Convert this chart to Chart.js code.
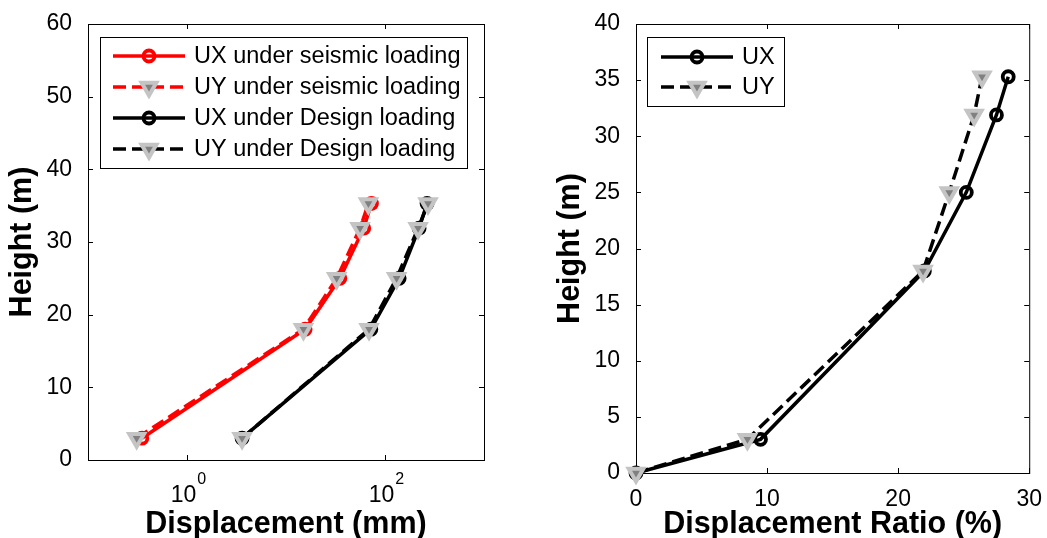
<!DOCTYPE html>
<html>
<head>
<meta charset="utf-8">
<script src="https://cdn.jsdelivr.net/npm/chart.js@4.4.1/dist/chart.umd.min.js"></script>
<style>
  html, body { margin: 0; padding: 0; background: #fff; }
  #wrap { position: relative; width: 1047px; height: 538px; overflow: hidden; }
  .box { position: absolute; top: 0; height: 538px; }
  #leftBox { left: 0; width: 520px; }
  #rightBox { left: 540px; width: 507px; }
</style>
</head>
<body>
<div id="wrap">
  <div class="box" id="leftBox"><canvas id="dispChart"></canvas></div>
  <div class="box" id="rightBox"><canvas id="ratioChart"></canvas></div>
</div>
<script>
// left plot: storey displacement (mm, log scale) vs height
const heights = [3, 18, 25, 31.9, 35.3];
const seismicUX = [0.35, 15.6, 35, 61, 73];
const seismicUY = [0.31, 15, 32.5, 56, 68];
const designUX = [3.6, 72, 139, 221, 266];
const designUY = [3.6, 69, 131, 216, 272];
const logTicks = [1, 100];

// right plot: displacement ratio (%) vs height
const ratioHeights = [0, 3, 18, 25, 31.9, 35.3];
const ratioUX = [0, 9.5, 22, 25.2, 27.5, 28.4];
const ratioUY = [0, 8.5, 21.9, 23.9, 25.8, 26.4];
const ratioXTicks = [0, 10, 20, 30];

const FONT = "'Liberation Sans', Arial, sans-serif";
const TRI_FILL = "#808080";
const TRI_EDGE = "#c4c4c4";

const toPoints = (xs, ys) => xs.map((x, i) => ({ x, y: ys[i] }));

const circleSeries = (label, xs, ys, color) => ({
  label,
  data: toPoints(xs, ys),
  borderColor: color,
  borderWidth: 3.5,
  borderDash: [],
  pointStyle: "circle",
  pointRadius: 5.5,
  pointBorderWidth: 3.8,
  pointBorderColor: color,
  pointBackgroundColor: "rgba(0,0,0,0)",
  pointRotation: 0,
  clip: false
});

const triangleSeries = (label, xs, ys, color) => ({
  label,
  data: toPoints(xs, ys),
  borderColor: color,
  borderWidth: 3.5,
  borderDash: [13, 6],
  pointStyle: "triangle",
  pointRadius: 8.5,
  pointBorderWidth: 4,
  pointBorderColor: TRI_EDGE,
  pointBackgroundColor: TRI_FILL,
  pointRotation: 180,
  clip: false
});

function drawMarker(ctx, ds, x, y) {
  ctx.save();
  ctx.setLineDash([]);
  ctx.lineWidth = ds.pointBorderWidth;
  ctx.strokeStyle = ds.pointBorderColor;
  ctx.fillStyle = ds.pointBackgroundColor;
  ctx.beginPath();
  const r = ds.pointRadius;
  if (ds.pointStyle === "triangle") {
    const s = Math.sin(Math.PI / 3) * r;
    ctx.moveTo(x, y + r);
    ctx.lineTo(x - s, y - r / 2);
    ctx.lineTo(x + s, y - r / 2);
    ctx.closePath();
  } else {
    ctx.arc(x, y, r, 0, Math.PI * 2);
  }
  ctx.fill();
  ctx.stroke();
  ctx.restore();
}

// box around the axes with inward tick marks on all four sides,
// power-of-ten tick labels and the in-axes legend
const framePlugin = {
  id: "frame",
  beforeDatasetsDraw(chart) {
    const { ctx, chartArea: a, scales } = chart;
    const len = 5;
    ctx.save();
    ctx.strokeStyle = "#000";
    ctx.lineWidth = 1;
    ctx.setLineDash([]);
    ctx.strokeRect(a.left + 0.5, a.top + 0.5, a.right - a.left, a.bottom - a.top);
    ctx.beginPath();
    scales.x.ticks.forEach(t => {
      const px = Math.round(scales.x.getPixelForValue(t.value)) + 0.5;
      ctx.moveTo(px, a.bottom); ctx.lineTo(px, a.bottom - len);
      ctx.moveTo(px, a.top); ctx.lineTo(px, a.top + len);
    });
    scales.y.ticks.forEach(t => {
      const py = Math.round(scales.y.getPixelForValue(t.value)) + 0.5;
      ctx.moveTo(a.left, py); ctx.lineTo(a.left + len, py);
      ctx.moveTo(a.right, py); ctx.lineTo(a.right - len, py);
    });
    ctx.stroke();
    ctx.restore();
  },
  afterDraw(chart, args, opts) {
    const { ctx, chartArea: a, scales } = chart;

    if (opts.powerLabels) {
      ctx.save();
      ctx.fillStyle = "#000";
      ctx.textBaseline = "alphabetic";
      ctx.textAlign = "left";
      scales.x.ticks.forEach(t => {
        const px = scales.x.getPixelForValue(t.value);
        const exp = String(Math.round(Math.log10(t.value)));
        ctx.font = `23px ${FONT}`;
        const wb = ctx.measureText("10").width;
        ctx.font = `16px ${FONT}`;
        const we = ctx.measureText(exp).width;
        const x0 = px - (wb + we) / 2 + 1;
        ctx.font = `23px ${FONT}`;
        ctx.fillText("10", x0, a.bottom + 41.5);
        ctx.font = `16px ${FONT}`;
        ctx.fillText(exp, x0 + wb + 1, a.bottom + 24);
      });
      ctx.restore();
    }

    if (!opts.box) return;
    const b = opts.box;
    ctx.save();
    ctx.fillStyle = "#fff";
    ctx.fillRect(b.x, b.y, b.w, b.h);
    ctx.strokeStyle = "#000";
    ctx.lineWidth = 1;
    ctx.strokeRect(b.x + 0.5, b.y + 0.5, b.w, b.h);
    ctx.font = `${opts.fontSize}px ${FONT}`;
    ctx.textBaseline = "middle";
    ctx.textAlign = "left";
    chart.data.datasets.forEach((ds, i) => {
      const y = opts.rowY[i];
      ctx.save();
      ctx.strokeStyle = ds.borderColor;
      ctx.lineWidth = ds.borderWidth;
      ctx.setLineDash(ds.borderDash);
      ctx.beginPath();
      ctx.moveTo(opts.lineX0, y);
      ctx.lineTo(opts.lineX1, y);
      ctx.stroke();
      ctx.restore();
      drawMarker(ctx, ds, (opts.lineX0 + opts.lineX1) / 2, y);
      ctx.fillStyle = "#000";
      ctx.fillText(ds.label, opts.textX, y + 1);
    });
    ctx.restore();
  }
};

const tickFont = { family: FONT, size: 23 };
const titleFont = { family: FONT, size: 30.5, weight: "bold", lineHeight: 0.9 };

const dispCtx = document.getElementById("dispChart").getContext("2d");
new Chart(dispCtx, {
  type: "line",
  data: {
    datasets: [
      { ...circleSeries("UX under seismic loading", seismicUX, heights, "#ff0000"), order: 4 },
      { ...triangleSeries("UY under seismic loading", seismicUY, heights, "#ff0000"), order: 3 },
      { ...circleSeries("UX under Design loading", designUX, heights, "#000000"), order: 2 },
      { ...triangleSeries("UY under Design loading", designUY, heights, "#000000"), order: 1 }
    ]
  },
  options: {
    responsive: true,
    maintainAspectRatio: false,
    animation: false,
    devicePixelRatio: 1,
    layout: { padding: { top: 24, right: 36, left: 0, bottom: 0 } },
    elements: { line: { tension: 0 } },
    plugins: {
      legend: { display: false },
      tooltip: { enabled: false },
      frame: {
        powerLabels: true,
        box: { x: 100, y: 37, w: 367, h: 131 },
        rowY: [56, 87, 118, 149],
        lineX0: 113, lineX1: 185, textX: 194,
        fontSize: 23.5
      }
    },
    scales: {
      x: {
        type: "logarithmic",
        min: 0.1,
        max: 1000,
        afterBuildTicks: s => { s.ticks = logTicks.map(v => ({ value: v })); },
        afterFit: s => { s.height = 78; },
        grid: { display: false },
        border: { display: false },
        ticks: { display: false },
        title: { display: true, text: "Displacement (mm)", color: "#000", font: titleFont, padding: { top: 0, bottom: 0 } }
      },
      y: {
        min: 0,
        max: 60,
        afterFit: s => { s.width = 88; },
        grid: { display: false },
        border: { display: false },
        ticks: { stepSize: 10, color: "#000", font: tickFont, padding: 8 },
        title: { display: true, text: "Height (m)", color: "#000", font: titleFont, padding: { top: 9, bottom: 0 } }
      }
    }
  },
  plugins: [framePlugin]
});

const ratioCtx = document.getElementById("ratioChart").getContext("2d");
new Chart(ratioCtx, {
  type: "line",
  data: {
    datasets: [
      { ...circleSeries("UX", ratioUX, ratioHeights, "#000000"), order: 2 },
      { ...triangleSeries("UY", ratioUY, ratioHeights, "#000000"), order: 1 }
    ]
  },
  options: {
    responsive: true,
    maintainAspectRatio: false,
    animation: false,
    devicePixelRatio: 1,
    layout: { padding: { top: 24, right: 15, left: 0, bottom: 0 } },
    elements: { line: { tension: 0 } },
    plugins: {
      legend: { display: false },
      tooltip: { enabled: false },
      frame: {
        box: { x: 107, y: 37, w: 137, h: 69 },
        rowY: [57, 87],
        lineX0: 121, lineX1: 193, textX: 202,
        fontSize: 23.5
      }
    },
    scales: {
      x: {
        type: "linear",
        min: 0,
        max: 30,
        afterBuildTicks: s => { s.ticks = ratioXTicks.map(v => ({ value: v })); },
        afterFit: s => { s.height = 65; },
        grid: { display: false },
        border: { display: false },
        ticks: { color: "#000", font: tickFont, padding: 5, maxRotation: 0, autoSkip: false },
        title: { display: true, text: "Displacement Ratio (%)", color: "#000", font: titleFont, padding: { top: 0, bottom: 0 } }
      },
      y: {
        min: 0,
        max: 40,
        afterFit: s => { s.width = 96; },
        grid: { display: false },
        border: { display: false },
        ticks: { stepSize: 5, color: "#000", font: tickFont, padding: 8 },
        title: { display: true, text: "Height (m)", color: "#000", font: titleFont, padding: { top: 17, bottom: 0 } }
      }
    }
  },
  plugins: [framePlugin]
});
</script>
</body>
</html>
